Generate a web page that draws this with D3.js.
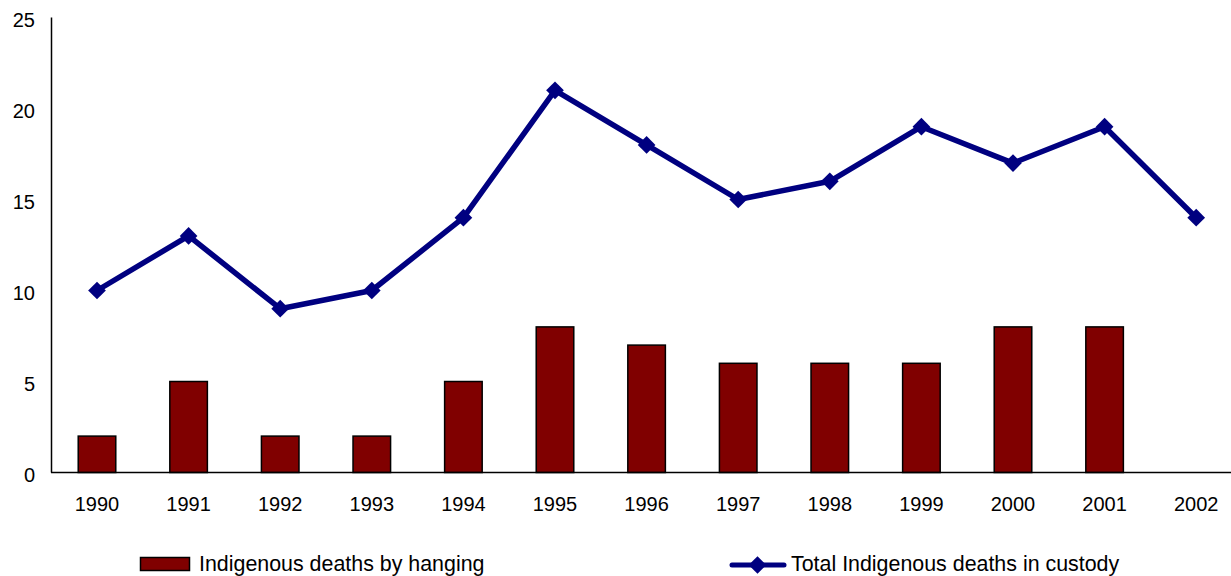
<!DOCTYPE html>
<html><head><meta charset="utf-8">
<script src="https://cdn.jsdelivr.net/npm/d3@7"></script>
<style>
html,body{margin:0;padding:0;background:#fff;overflow:hidden}
text{font-family:"Liberation Sans",Arial,sans-serif;fill:#000}
</style></head>
<body>
<svg id="c" width="1231" height="576"></svg>
<script>
const years = ["1990","1991","1992","1993","1994","1995","1996","1997","1998","1999","2000","2001","2002"];
const hanging = [2,5,2,2,5,8,7,6,6,6,8,8,null];
const totalDeaths = [10,13,9,10,14,21,18,15,16,19,17,19,14];
const yTicks = [0,5,10,15,20,25];
const seriesNames = ["Indigenous deaths by hanging","Total Indigenous deaths in custody"];

const svg = d3.select("#c");
const x = d3.scaleBand().domain(years).range([51.2, 1242]).paddingInner(0).paddingOuter(0);
const y = d3.scaleLinear().domain([0,25]).range([472.5, 17.5]);
const barW = x.bandwidth()*0.41;
const cx = d => x(d) + x.bandwidth()/2;

// bars
svg.append("g").selectAll("rect").data(years.map((yr,i)=>({yr,v:hanging[i]})).filter(d=>d.v!=null))
  .join("rect")
  .attr("x", d=>cx(d.yr)-barW/2).attr("width", barW)
  .attr("y", d=>y(d.v)).attr("height", d=>y(0)-y(d.v))
  .attr("fill","#800000").attr("stroke","#000").attr("stroke-width",1.5);

// axes
svg.append("line").attr("x1",51.5).attr("x2",51.5).attr("y1",y(25)).attr("y2",y(0)).attr("stroke","#000").attr("stroke-width",1.5);
svg.append("line").attr("x1",51).attr("x2",1231).attr("y1",y(0)).attr("y2",y(0)).attr("stroke","#000").attr("stroke-width",1.5);

svg.append("g").selectAll("text").data(yTicks).join("text")
  .attr("x",35).attr("y",d=>y(d)+4).attr("text-anchor","end").attr("dominant-baseline","middle")
  .style("font-size","20px").text(d=>d);

svg.append("g").selectAll("text").data(years).join("text")
  .attr("x",d=>cx(d)).attr("y",y(0)+33).attr("text-anchor","middle").attr("dominant-baseline","middle")
  .style("font-size","20px").text(d=>d);

// line
const line = d3.line().x((d,i)=>cx(years[i])).y(d=>y(d));
svg.append("path").datum(totalDeaths).attr("d",line).attr("fill","none")
  .attr("stroke","#000080").attr("stroke-width",5.5).attr("stroke-linejoin","round");
const diamond = d3.symbol().type(d3.symbolDiamond2).size(200);
svg.append("g").selectAll("path").data(totalDeaths).join("path")
  .attr("transform",(d,i)=>`translate(${cx(years[i])},${y(d)})`)
  .attr("d",diamond).attr("fill","#000080");

// legend
const lg = svg.append("g");
lg.append("rect").attr("x",140.5).attr("y",557.5).attr("width",49).attr("height",13)
  .attr("fill","#800000").attr("stroke","#000").attr("stroke-width",1.5);
lg.append("text").attr("x",199).attr("y",571).style("font-size","21.4px").text(seriesNames[0]);
lg.append("line").attr("x1",732).attr("x2",784).attr("y1",565).attr("y2",565)
  .attr("stroke","#000080").attr("stroke-width",5).attr("stroke-linecap","round");
lg.append("path").attr("transform","translate(757.5,565)").attr("d",diamond).attr("fill","#000080");
lg.append("text").attr("x",791).attr("y",571).style("font-size","21.4px").text(seriesNames[1]);
</script>
</body></html>
